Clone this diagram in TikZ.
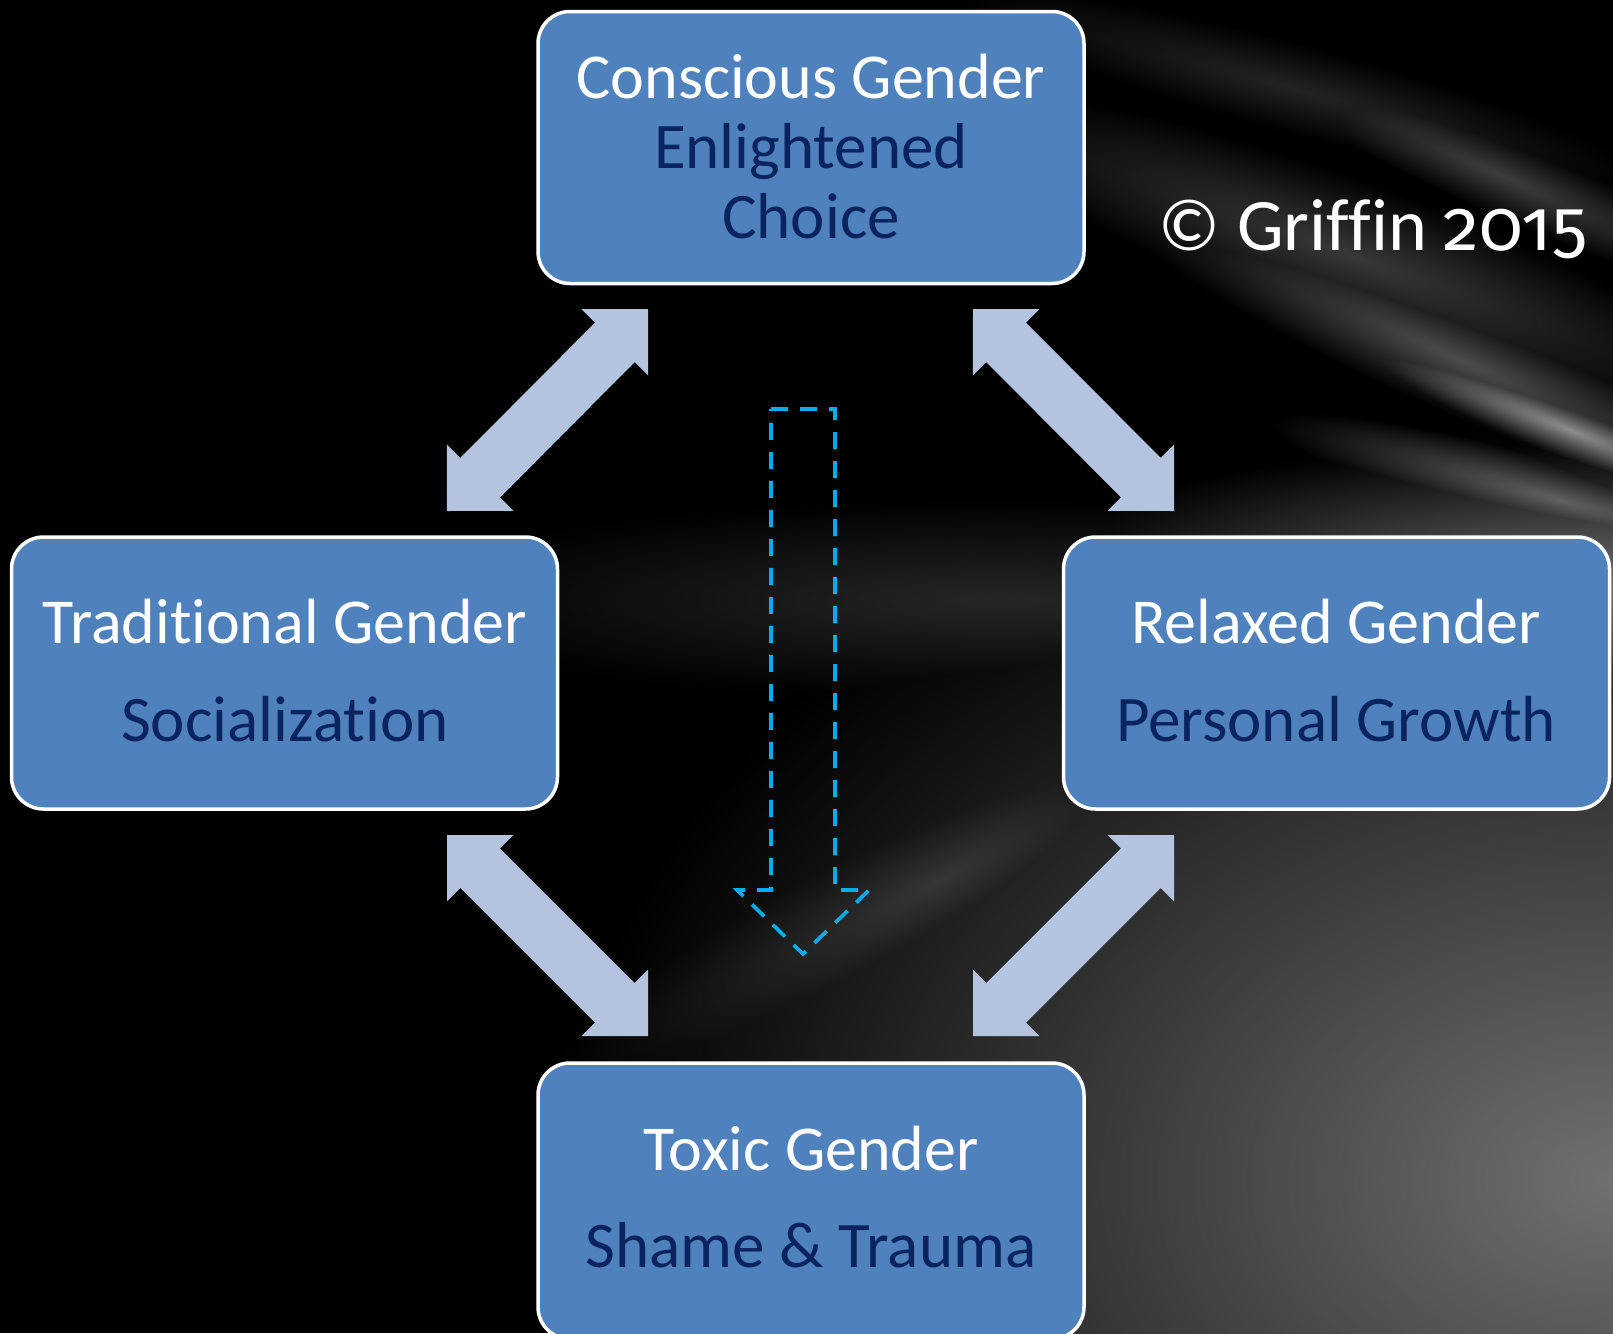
\documentclass[tikz,border=0pt]{standalone}
\usepackage{fontspec}
\setmainfont{Carlito}[Ligatures=NoCommon]
\newfontfamily\oldfigures{Fira Sans}[Numbers=OldStyle]
\usetikzlibrary{calc}

\definecolor{boxblue}{HTML}{4F81BD}
\definecolor{subnavy}{HTML}{0A2460}
\definecolor{arrowgray}{HTML}{B4C4DF}
\definecolor{dashblue}{HTML}{00AEEF}

\tikzset{
  panel/.style={draw=white, line width=3.5pt, fill=boxblue, rounded corners=32pt,
    minimum width=546pt, minimum height=272pt, inner sep=0pt},
  headtxt/.style={text=white, font=\fontsize{64}{70}\selectfont, anchor=base, inner sep=0pt},
  subtxt/.style={text=subnavy, font=\fontsize{65}{70}\selectfont, anchor=base, inner sep=0pt},
  arrowfill/.style={fill=arrowgray},
  flowdash/.style={draw=dashblue, line width=3.7pt, dash pattern=on 17pt off 12pt, line join=miter},
  glow/.style={outer color=black}
}

% double-headed block arrow from one named point to another
\newcommand{\blockarrow}[2]{%
  \path let \p1=($(#2)-(#1)$) in
    \pgfextra{\pgfmathsetmacro\baang{atan2(\y1,\x1)}\pgfmathsetmacro\balen{veclen(\x1,\y1)}%
      \xdef\baang{\baang}\xdef\balen{\balen}};
  \begin{scope}[shift={(#1)}, rotate=\baang]
    \fill[arrowfill] (0,0) -- (47,47) -- (47,28) -- ({\balen-47},28) -- ({\balen-47},47)
      -- (\balen,0) -- ({\balen-47},-47) -- ({\balen-47},-28) -- (47,-28) -- (47,-47) -- cycle;
  \end{scope}}

% soft elongated glow: centre, angle, half-length, half-width, grey level
\newcommand{\wisp}[5]{%
  \begin{scope}[transform canvas={shift={(#1)}, rotate=#2}]
    \shade[glow, inner color=white!#5!black] (0,0) ellipse [x radius=#3pt, y radius=#4pt];
  \end{scope}}

\begin{document}
\begin{tikzpicture}[x=1pt, y=-1pt]
  \useasboundingbox (0,0) rectangle (1613,1333);
  \fill[black] (0,0) rectangle (1613,1333);

  % soft grey light on the dark backdrop
  \begin{scope}[blend mode=lighten]
    \shade[glow, inner color=white!44!black] (1613,1180) ellipse [x radius=1050pt, y radius=760pt];
    \shade[glow, inner color=white!45!black] (1613,590) ellipse [x radius=620pt, y radius=150pt];
    \wisp{1000,600}{0}{620}{100}{15}
    \wisp{940,880}{28}{430}{95}{21}
    \wisp{1300,90}{-15}{360}{45}{14}
    \wisp{1500,175}{-24}{300}{40}{24}
    \wisp{1350,255}{-20}{430}{75}{22}
    \wisp{1460,360}{-24}{380}{55}{30}
    \wisp{1570,430}{-22}{260}{30}{55}
    \wisp{1560,500}{-15}{300}{40}{38}
  \end{scope}

  % the four stages
  \node[panel] (conscious) at (811,147.5) {};
  \node[panel] (traditional) at (284.5,673) {};
  \node[panel] (relaxed) at (1336.5,673) {};
  \node[panel, minimum height=276pt] (toxic) at (811,1201) {};

  \node[headtxt] (conscious-h) at (811,98) {Conscious Gender};
  \node[subtxt] (conscious-s1) at (811,168) {Enlightened};
  \node[subtxt] (conscious-s2) at (811,238) {Choice};

  \node[headtxt] (traditional-h) at (285,643) {Traditional Gender};
  \node[subtxt] (traditional-s) at (285,741) {Socialization};

  \node[headtxt] (relaxed-h) at (1336,643) {Relaxed Gender};
  \node[subtxt] (relaxed-s) at (1336,741) {Personal Growth};

  \node[headtxt] (toxic-h) at (811,1170) {Toxic Gender};
  \node[subtxt] (toxic-s) at (811,1267) {Shame \& Trauma};

  \node[text=white, font=\fontsize{74}{80}\selectfont, anchor=base, inner sep=0pt]
    (credit) at (1373,250) {© Griffin {\oldfigures\fontsize{72}{80}\selectfont 2015}};

  % arrow end points
  \coordinate (ctA) at (648,309);  \coordinate (ctB) at (447,511);
  \coordinate (crA) at (973,309);  \coordinate (crB) at (1174,511);
  \coordinate (tbA) at (447,835);  \coordinate (tbB) at (648,1036);
  \coordinate (rbA) at (1174,835); \coordinate (rbB) at (973,1036);

  \blockarrow{ctA}{ctB}
  \blockarrow{crA}{crB}
  \blockarrow{tbA}{tbB}
  \blockarrow{rbA}{rbB}

  % dashed downward arrow in the middle
  \coordinate (dTL) at (771,409);
  \coordinate (dTR) at (835,409);
  \coordinate (dTip) at (803,954);
  \draw[flowdash] (dTL) -- (dTR) -- (835,890) -- (869,890) -- (dTip) -- (737,890) -- (771,890) -- cycle;
\end{tikzpicture}
\end{document}
